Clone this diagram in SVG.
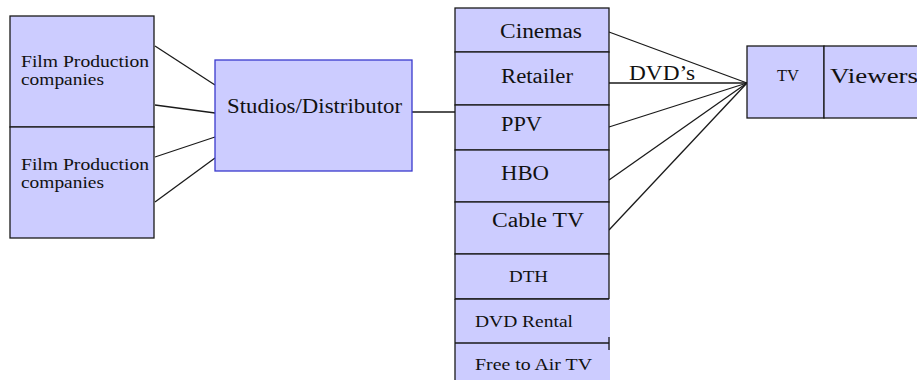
<svg xmlns="http://www.w3.org/2000/svg" width="917" height="380" viewBox="0 0 917 380">
<style>
.box{fill:#ccccff;stroke:#1a1a1a;stroke-width:1.3}
.fill{fill:#ccccff;stroke:none}
.edge{stroke:#1a1a1a;stroke-width:1.3;fill:none}
text{font-family:'Liberation Serif','DejaVu Serif',serif;fill:#111}
.l{font-size:20px}
.s{font-size:17px}
</style>
<rect width="917" height="380" fill="#ffffff"/>
<g id="connectors">
<line class="edge" x1="155" y1="46" x2="215" y2="85"/>
<line class="edge" x1="155" y1="105" x2="215" y2="113"/>
<line class="edge" x1="155" y1="157" x2="215" y2="137"/>
<line class="edge" x1="155" y1="202" x2="215" y2="158"/>
<line class="edge" x1="412" y1="112" x2="455" y2="112"/>
<line class="edge" x1="609" y1="32" x2="747" y2="83"/>
<line class="edge" x1="609" y1="83" x2="747" y2="83"/>
<line class="edge" x1="609" y1="127" x2="747" y2="83"/>
<line class="edge" x1="609" y1="180" x2="747" y2="83"/>
<line class="edge" x1="609" y1="230" x2="747" y2="83"/>
<text class="l" x="629" y="80" textLength="66" lengthAdjust="spacingAndGlyphs">DVD’s</text>
</g>
<g id="film1">
<rect class="box" x="10" y="16" width="144" height="111"/>
<text class="s" x="21" y="67" textLength="128" lengthAdjust="spacingAndGlyphs">Film Production</text>
<text class="s" x="21" y="85" textLength="83" lengthAdjust="spacingAndGlyphs">companies</text>
</g>
<g id="film2">
<rect class="box" x="10" y="127" width="144" height="111"/>
<text class="s" x="21" y="170" textLength="128" lengthAdjust="spacingAndGlyphs">Film Production</text>
<text class="s" x="21" y="188" textLength="83" lengthAdjust="spacingAndGlyphs">companies</text>
</g>
<g id="studios">
<rect x="215" y="60" width="197" height="111" fill="#ccccff" stroke="#3a3acc" stroke-width="1.3"/>
<text class="l" x="227" y="113" textLength="175" lengthAdjust="spacingAndGlyphs">Studios/Distributor</text>
</g>
<g id="cinemas">
<rect class="box" x="455" y="8" width="154" height="44"/>
<text class="l" x="500" y="38" textLength="82" lengthAdjust="spacingAndGlyphs">Cinemas</text>
</g>
<g id="retailer">
<rect class="box" x="455" y="52" width="154" height="53"/>
<text class="l" x="501" y="83" textLength="72" lengthAdjust="spacingAndGlyphs">Retailer</text>
</g>
<g id="ppv">
<rect class="box" x="455" y="105" width="154" height="45"/>
<text class="l" x="501" y="131" textLength="41" lengthAdjust="spacingAndGlyphs">PPV</text>
</g>
<g id="hbo">
<rect class="box" x="455" y="150" width="154" height="52"/>
<text class="l" x="501" y="180" textLength="48" lengthAdjust="spacingAndGlyphs">HBO</text>
</g>
<g id="cabletv">
<rect class="box" x="455" y="202" width="154" height="52"/>
<text class="l" x="492" y="227" textLength="92" lengthAdjust="spacingAndGlyphs">Cable TV</text>
</g>
<g id="dth">
<rect class="box" x="455" y="254" width="154" height="45"/>
<line class="edge" x1="609" y1="299" x2="609" y2="305"/>
<text class="s" x="509" y="282" textLength="39" lengthAdjust="spacingAndGlyphs">DTH</text>
</g>
<g id="dvdrental">
<rect class="fill" x="455" y="299" width="155" height="44"/>
<line class="edge" x1="455" y1="299" x2="609" y2="299"/>
<line class="edge" x1="455" y1="299" x2="455" y2="343"/>
<line class="edge" x1="609" y1="337" x2="609" y2="343"/>
<text class="s" x="475" y="327" textLength="98" lengthAdjust="spacingAndGlyphs">DVD Rental</text>
</g>
<g id="freetoair">
<rect class="fill" x="455" y="343" width="155" height="40"/>
<line class="edge" x1="455" y1="343" x2="609" y2="343"/>
<line class="edge" x1="455" y1="343" x2="455" y2="380"/>
<line class="edge" x1="609" y1="343" x2="609" y2="350"/>
<text class="s" x="475" y="370" textLength="117" lengthAdjust="spacingAndGlyphs">Free to Air TV</text>
</g>
<g id="tv">
<rect class="box" x="747" y="46" width="77" height="72"/>
<text class="s" x="777" y="81" textLength="22" lengthAdjust="spacingAndGlyphs">TV</text>
</g>
<g id="viewers">
<rect class="box" x="824" y="46" width="100" height="72"/>
<text class="l" x="830" y="83" textLength="88" lengthAdjust="spacingAndGlyphs">Viewers</text>
</g>
</svg>
